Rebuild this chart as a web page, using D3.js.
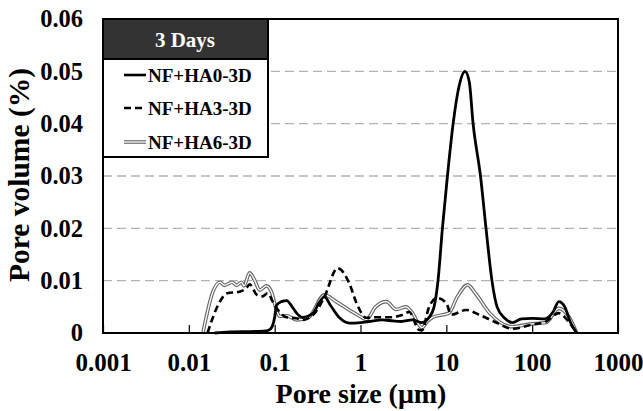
<!DOCTYPE html>
<html>
<head>
<meta charset="utf-8">
<script src="https://cdn.jsdelivr.net/npm/d3@7"></script>
<style>
  body { margin: 0; background: #fff; }
  text { font-family: "Liberation Serif", "Times New Roman", serif; font-weight: bold; }
</style>
</head>
<body>
<svg id="chart" width="643" height="411"></svg>
<script>
// pore size (um) and pore volume (%)
var ha0Size = [0.02, 0.03, 0.06, 0.08, 0.09, 0.1, 0.105, 0.12, 0.138, 0.16, 0.18, 0.21, 0.28, 0.33, 0.38, 0.45, 0.57, 0.74, 1.0, 1.26, 1.8, 2.4, 3.0, 4.0, 5.2, 6.3, 7.2, 8, 9, 10.3, 12, 14, 16.5, 18.5, 20.5, 25, 29, 34, 39, 48, 59, 75, 100, 140, 175, 204, 240, 280, 330];
var ha0Vol  = [0, 0.0002, 0.0003, 0.0004, 0.0008, 0.003, 0.0053, 0.006, 0.0062, 0.005, 0.0038, 0.003, 0.0038, 0.0058, 0.0069, 0.0052, 0.0029, 0.0019, 0.002, 0.0022, 0.0025, 0.0023, 0.0022, 0.0025, 0.002, 0.003, 0.005, 0.01, 0.02, 0.03, 0.04, 0.047, 0.05, 0.048, 0.04, 0.03, 0.02, 0.01, 0.005, 0.0028, 0.002, 0.0027, 0.0028, 0.0027, 0.004, 0.006, 0.005, 0.002, 0];

var ha3Size = [0.0165, 0.023, 0.028, 0.039, 0.047, 0.051, 0.062, 0.072, 0.083, 0.095, 0.114, 0.138, 0.18, 0.21, 0.3, 0.38, 0.54, 0.74, 0.9, 1.17, 1.5, 2.2, 3.0, 3.7, 4.8, 5.2, 6.3, 7.8, 10, 11.4, 17, 24, 38, 59, 93, 145, 204, 270, 330];
var ha3Vol  = [0, 0.006, 0.0076, 0.0079, 0.0086, 0.0093, 0.0073, 0.007, 0.0076, 0.006, 0.004, 0.003, 0.0028, 0.0025, 0.004, 0.0069, 0.0124, 0.0095, 0.0057, 0.0029, 0.003, 0.003, 0.0034, 0.004, 0.0006, 0.0005, 0.005, 0.0067, 0.0057, 0.0035, 0.0044, 0.0035, 0.002, 0.0008, 0.0015, 0.0022, 0.0038, 0.002, 0];

var ha6Size = [0.0146, 0.019, 0.023, 0.026, 0.032, 0.036, 0.041, 0.044, 0.051, 0.058, 0.067, 0.08, 0.092, 0.105, 0.114, 0.138, 0.18, 0.25, 0.38, 0.52, 0.74, 0.98, 1.17, 1.5, 2.0, 2.6, 3.4, 4.0, 5.2, 6.0, 6.9, 10.7, 13.4, 17.7, 22, 32, 59, 93, 145, 204, 270, 330];
var ha6Vol  = [0, 0.0078, 0.0097, 0.0091, 0.0097, 0.0091, 0.0097, 0.009, 0.0115, 0.0102, 0.0082, 0.009, 0.0078, 0.0044, 0.0032, 0.0033, 0.0025, 0.003, 0.0073, 0.006, 0.0044, 0.0032, 0.0026, 0.005, 0.006, 0.0045, 0.005, 0.0039, 0.001, 0.0022, 0.003, 0.0038, 0.0069, 0.0092, 0.0075, 0.0038, 0.0012, 0.0017, 0.002, 0.0047, 0.003, 0];

var xTicks = [0.001, 0.01, 0.1, 1, 10, 100, 1000];
var xTickLabels = ["0.001", "0.01", "0.1", "1", "10", "100", "1000"];
var yTicks = [0, 0.01, 0.02, 0.03, 0.04, 0.05, 0.06];
var yTickLabels = ["0", "0.01", "0.02", "0.03", "0.04", "0.05", "0.06"];
var legendNames = ["NF+HA0-3D", "NF+HA3-3D", "NF+HA6-3D"];

var svg = d3.select("#chart");
var pLeft = 103, pRight = 618, pTop = 19, pBottom = 333;

var x = d3.scaleLog().domain([0.001, 1000]).range([pLeft, pRight]);
var y = d3.scaleLinear().domain([0, 0.06]).range([pBottom, pTop]);

// grid
svg.append("g")
  .selectAll("line")
  .data(yTicks.slice(1, 6))
  .enter().append("line")
    .attr("x1", pLeft).attr("x2", pRight)
    .attr("y1", function(d) { return y(d); })
    .attr("y2", function(d) { return y(d); })
    .attr("stroke", "#b3b3b3")
    .attr("stroke-width", 1.3)
    .attr("stroke-dasharray", "9,5");

function toPts(sx, sv) {
  return sx.map(function(d, i) { return [d, sv[i]]; });
}
var line = d3.line()
  .x(function(d) { return x(d[0]); })
  .y(function(d) { return y(d[1]); })
  .curve(d3.curveMonotoneX);

var plot = svg.append("g");
// HA6: double gray line
plot.append("path").attr("d", line(toPts(ha6Size, ha6Vol)))
  .attr("fill", "none").attr("stroke", "#666").attr("stroke-width", 3.6);
plot.append("path").attr("d", line(toPts(ha6Size, ha6Vol)))
  .attr("fill", "none").attr("stroke", "#fff").attr("stroke-width", 1.3);
// HA3 dashed
plot.append("path").attr("d", line(toPts(ha3Size, ha3Vol)))
  .attr("fill", "none").attr("stroke", "#000").attr("stroke-width", 2.6)
  .attr("stroke-dasharray", "7,4");
// HA0 solid
plot.append("path").attr("d", line(toPts(ha0Size, ha0Vol)))
  .attr("fill", "none").attr("stroke", "#000").attr("stroke-width", 2.8);

// frame
svg.append("rect")
  .attr("x", pLeft).attr("y", pTop)
  .attr("width", pRight - pLeft).attr("height", pBottom - pTop)
  .attr("fill", "none").attr("stroke", "#000").attr("stroke-width", 2);

// x axis
var xAxis = d3.axisBottom(x)
  .tickValues(xTicks)
  .tickFormat(function(d, i) { return xTickLabels[i]; })
  .tickSizeInner(-8).tickSizeOuter(0).tickPadding(20);
var gx = svg.append("g").attr("transform", "translate(0," + pBottom + ")").call(xAxis);
gx.select(".domain").remove();
gx.selectAll("line").attr("stroke", "#000").attr("stroke-width", 1.2);
gx.selectAll("text").attr("font-size", 25).attr("fill", "#000")
  .attr("font-family", "Liberation Serif").attr("font-weight", "bold");

// y axis
var yAxis = d3.axisLeft(y)
  .tickValues(yTicks)
  .tickFormat(function(d, i) { return yTickLabels[i]; })
  .tickSize(0).tickPadding(20);
var gy = svg.append("g").attr("transform", "translate(" + pLeft + ",0)").call(yAxis);
gy.select(".domain").remove();
gy.selectAll("text").attr("font-size", 24.5).attr("fill", "#000")
  .attr("font-family", "Liberation Serif").attr("font-weight", "bold");

// titles
svg.append("text")
  .attr("x", 361).attr("y", 403)
  .attr("text-anchor", "middle")
  .attr("font-size", 28)
  .text("Pore size (\u03bcm)");
svg.append("text")
  .attr("transform", "translate(29," + 175 + ") rotate(-90)")
  .attr("text-anchor", "middle")
  .attr("font-size", 29.5)
  .text("Pore volume (%)");

// legend
var lg = svg.append("g");
lg.append("rect").attr("x", 103).attr("y", 19).attr("width", 165).attr("height", 138)
  .attr("fill", "#fff").attr("stroke", "#000").attr("stroke-width", 2);
lg.append("rect").attr("x", 103).attr("y", 19).attr("width", 165).attr("height", 40)
  .attr("fill", "#333").attr("stroke", "#000").attr("stroke-width", 2);
lg.append("text").attr("x", 185).attr("y", 47).attr("text-anchor", "middle")
  .attr("fill", "#fff").attr("font-size", 21).text("3 Days");

var ly = [75, 108, 142];
legendNames.forEach(function(name, i) {
  var yy = ly[i];
  if (i == 2) {
    lg.append("line").attr("x1", 124).attr("x2", 146).attr("y1", yy).attr("y2", yy)
      .attr("stroke", "#666").attr("stroke-width", 3.6);
    lg.append("line").attr("x1", 124).attr("x2", 146).attr("y1", yy).attr("y2", yy)
      .attr("stroke", "#fff").attr("stroke-width", 1.3);
  } else {
    lg.append("line").attr("x1", 124).attr("x2", 146).attr("y1", yy).attr("y2", yy)
      .attr("stroke", "#000").attr("stroke-width", 2.6)
      .attr("stroke-dasharray", i == 1 ? "7,4" : null);
  }
  lg.append("text").attr("x", 148).attr("y", yy + 7)
    .attr("font-size", 19).text(name);
});
</script>
</body>
</html>
